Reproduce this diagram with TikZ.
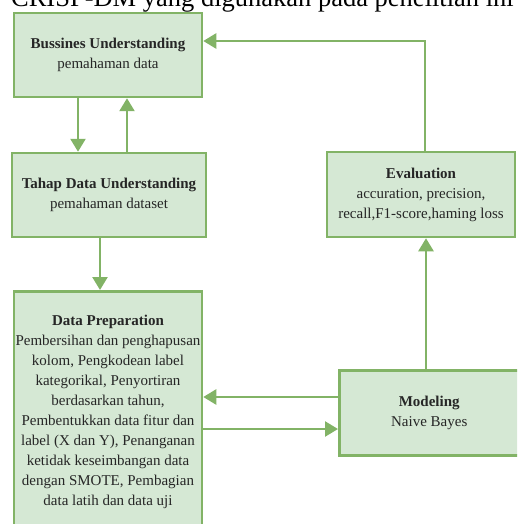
\documentclass[tikz,border=0pt]{standalone}
\usepackage{fontspec}
\setmainfont{Liberation Serif}
\usetikzlibrary{arrows.meta,calc}
\definecolor{gborder}{HTML}{82B366}
\definecolor{gfill}{HTML}{D5E8D4}
\tikzset{
  stagebox/.style={draw=gborder,fill=gfill,line width=2.5pt,rectangle,inner sep=0pt,
    align=center,font=\fontsize{15}{20}\selectfont,text=black!85},
  arr/.style={draw=gborder,line width=2.5pt,-{Triangle[width=15pt,length=13pt]}},
  ln/.style={draw=gborder,line width=2.5pt},
}
\begin{document}
\begin{tikzpicture}[x=1pt,y=-1pt]
\useasboundingbox (0,0) rectangle (517,524);
\clip (0,0) rectangle (517,524);
\node[anchor=base east,inner sep=0pt,font=\fontsize{26.5}{30}\selectfont] (title) at (514,6.5) {CRISP-DM yang digunakan pada penelitian ini};
\node[stagebox,minimum width=188pt,minimum height=84pt] (b1) at (108,55)
  {\textbf{Bussines Understanding}\\pemahaman data};
\node[stagebox,minimum width=194pt,minimum height=84pt] (b2) at (109,195)
  {\textbf{Tahap Data Understanding}\\pemahaman dataset};
\node[stagebox,minimum width=188pt,minimum height=236pt,anchor=north] (b3) at (108,290) {};
\node[align=center,font=\fontsize{15}{20}\selectfont,text=black!85,inner sep=0pt] (b3t) at (108,412)
  {\textbf{Data Preparation}\\Pembersihan dan penghapusan\\kolom, Pengkodean label\\kategorikal, Penyortiran\\berdasarkan tahun,\\Pembentukkan data fitur dan\\label (X dan Y), Penanganan\\ketidak keseimbangan data\\dengan SMOTE, Pembagian\\data latih dan data uji};
\node[stagebox,minimum width=188pt,minimum height=85pt] (ev) at (421,194.5)
  {\textbf{Evaluation}\\accuration, precision,\\recall,F1-score,haming loss};
\node[stagebox,minimum width=180pt,minimum height=85pt,anchor=north west] (md) at (338,369)
  {\textbf{Modeling}\\Naive Bayes};
\coordinate (xa) at (78,0);
\coordinate (xb) at (127,0);
\coordinate (xc) at (100,0);
\coordinate (xd) at (426,0);
\coordinate (ya) at (0,397);
\coordinate (yb) at (0,429);
\coordinate (top) at (425,41);
\draw[arr] (b1.south -| xa) -- (b2.north -| xa);
\draw[arr] (b2.north -| xb) -- (b1.south -| xb);
\draw[arr] (b2.south -| xc) -- (b3.north -| xc);
\draw[arr] (md.west |- ya) -- (b3.east |- ya);
\draw[arr] (b3.east |- yb) -- (md.west |- yb);
\draw[arr] (md.north -| xd) -- (ev.south -| xd);
\draw[arr] (ev.north -| top) -- (top) -- (b1.east |- top);
\end{tikzpicture}
\end{document}
